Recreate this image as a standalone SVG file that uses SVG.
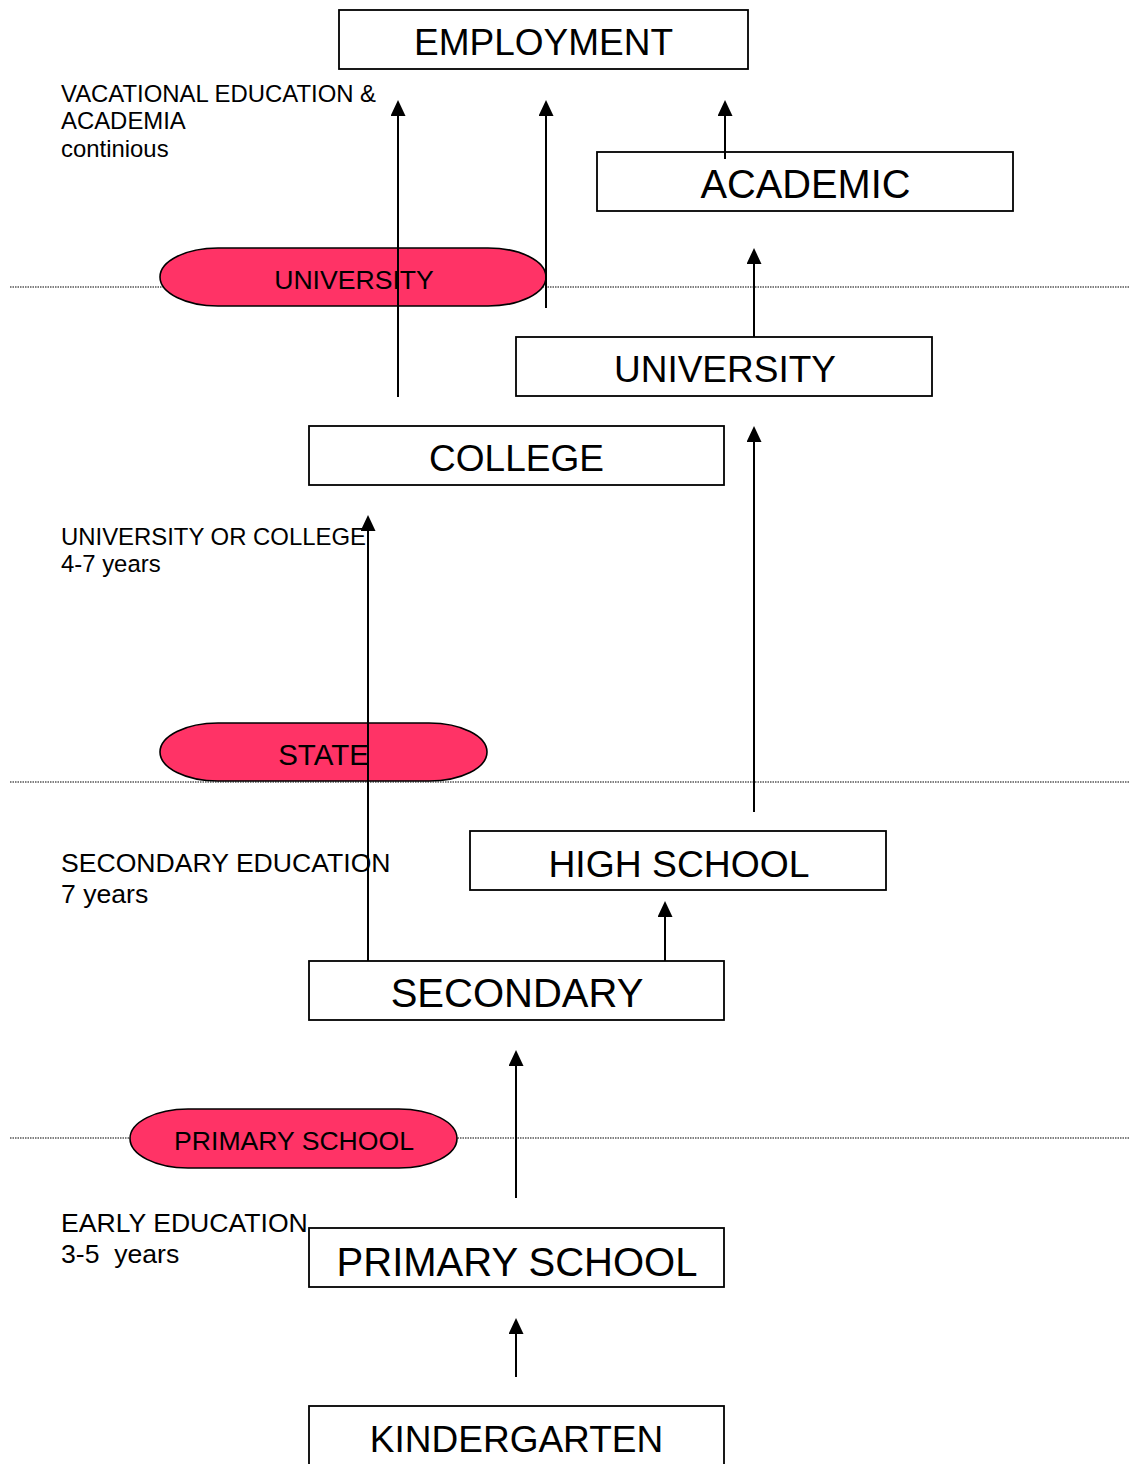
<svg xmlns="http://www.w3.org/2000/svg" width="1129" height="1464" viewBox="0 0 1129 1464">
<style>
.box{fill:#fff;stroke:#000;stroke-width:1.8}
.pill{fill:#ff3366;stroke:#000;stroke-width:1.6}
.big{font-family:"Liberation Sans",Arial,sans-serif;fill:#000;text-anchor:middle}
.pt{font-family:"Liberation Sans",Arial,sans-serif;font-size:26.6px;fill:#000;text-anchor:middle}
.note{font-family:"Liberation Sans",Arial,sans-serif;fill:#000;white-space:pre}
.dot{stroke:#000;stroke-width:1.2;stroke-dasharray:1.5 1;fill:none}
.arr{stroke:#000;stroke-width:2;fill:none;marker-end:url(#ah)}
</style>
<defs>
<marker id="ah" markerUnits="userSpaceOnUse" markerWidth="16" markerHeight="15" viewBox="0 0 16 15" refX="0" refY="7.5" orient="auto">
<path d="M0,0 L16,7.5 L0,15 z" fill="#000"/>
</marker>
</defs>
<rect width="1129" height="1464" fill="#fff"/>
<g id="levels">
<line class="dot" x1="10" y1="287" x2="1129" y2="287"/>
<line class="dot" x1="10" y1="782" x2="1129" y2="782"/>
<line class="dot" x1="10" y1="1138" x2="1129" y2="1138"/>
</g>
<g id="notes">
<text class="note" font-size="23.9" x="61" y="102">VACATIONAL EDUCATION &amp;</text>
<text class="note" font-size="23.9" x="61" y="129">ACADEMIA</text>
<text class="note" font-size="23.9" x="61" y="157">continious</text>
<text class="note" font-size="23.9" x="61" y="545">UNIVERSITY OR COLLEGE</text>
<text class="note" font-size="23.9" x="61" y="572">4-7 years</text>
<text class="note" font-size="26.6" x="61" y="872">SECONDARY EDUCATION</text>
<text class="note" font-size="26.6" x="61" y="903">7 years</text>
<text class="note" font-size="26.6" x="61" y="1232">EARLY EDUCATION</text>
<text class="note" font-size="26.6" x="61" y="1263" xml:space="preserve">3-5  years</text>
</g>
<g id="pill-university">
<rect class="pill" x="160" y="248" width="386" height="58" rx="58" ry="29"/>
<text class="pt" x="354" y="289">UNIVERSITY</text>
</g>
<g id="pill-state">
<rect class="pill" x="160" y="723" width="327" height="58" rx="58" ry="29"/>
<text class="pt" x="323.5" y="765" style="font-size:29.5px">STATE</text>
</g>
<g id="pill-primary">
<rect class="pill" x="130" y="1109" width="327" height="59" rx="58" ry="29.5"/>
<text class="pt" x="294" y="1150">PRIMARY SCHOOL</text>
</g>
<g id="employment">
<rect class="box" x="339" y="10" width="409" height="59"/>
<text class="big" font-size="37" x="543.5" y="55">EMPLOYMENT</text>
</g>
<g id="academic">
<rect class="box" x="597" y="152" width="416" height="59"/>
<text class="big" font-size="39.8" x="805.5" y="198">ACADEMIC</text>
</g>
<g id="university">
<rect class="box" x="516" y="337" width="416" height="59"/>
<text class="big" font-size="37" x="725" y="382">UNIVERSITY</text>
</g>
<g id="college">
<rect class="box" x="309" y="426" width="415" height="59"/>
<text class="big" font-size="37" x="516.5" y="471">COLLEGE</text>
</g>
<g id="high-school">
<rect class="box" x="470" y="831" width="416" height="59"/>
<text class="big" font-size="37.3" x="679" y="877">HIGH SCHOOL</text>
</g>
<g id="secondary">
<rect class="box" x="309" y="961" width="415" height="59"/>
<text class="big" font-size="40" x="517" y="1007">SECONDARY</text>
</g>
<g id="primary-school">
<rect class="box" x="309" y="1228" width="415" height="59"/>
<text class="big" font-size="40" x="517" y="1276">PRIMARY SCHOOL</text>
</g>
<g id="kindergarten">
<rect class="box" x="309" y="1406" width="415" height="70"/>
<text class="big" font-size="37" x="516.5" y="1452">KINDERGARTEN</text>
</g>
<g id="connectors">
<line class="arr" x1="398" y1="397" x2="398" y2="116"/>
<line class="arr" x1="546" y1="308" x2="546" y2="116"/>
<line class="arr" x1="725" y1="159" x2="725" y2="116"/>
<line class="arr" x1="754" y1="337" x2="754" y2="264"/>
<line class="arr" x1="754" y1="812" x2="754" y2="442"/>
<line class="arr" x1="368" y1="961" x2="368" y2="531"/>
<line class="arr" x1="665" y1="961" x2="665" y2="917"/>
<line class="arr" x1="516" y1="1198" x2="516" y2="1066"/>
<line class="arr" x1="516" y1="1377" x2="516" y2="1334"/>
</g>
</svg>
